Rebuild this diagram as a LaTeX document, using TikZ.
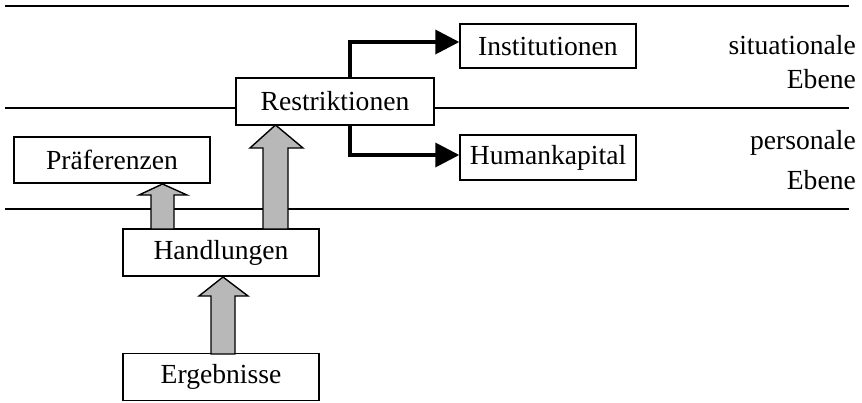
\documentclass[tikz,border=0pt]{standalone}
\usepackage{fontspec}
\setmainfont{Liberation Serif}
\usetikzlibrary{arrows.meta}
\begin{document}
\begin{tikzpicture}[x=1pt,y=-1pt,
  box/.style={draw=black,line width=1.4pt,fill=white,font=\fontsize{27.6}{30}\selectfont,inner sep=0pt},
  lvl/.style={line width=1.4pt},
  blockarrow/.style={draw=black,line width=1.4pt,fill=black!28,line join=miter},
  conn/.style={line width=3.6pt,-{Triangle[length=24pt,width=24pt]}},
  side/.style={font=\fontsize{27.6}{30}\selectfont,anchor=east,inner sep=0pt}]
\fill[white] (0,0) rectangle (862,402);
\useasboundingbox (0,0) rectangle (862,402);
% level lines
\coordinate (l1a) at (5,6);   \coordinate (l1b) at (849,6);
\coordinate (l2a) at (5,108); \coordinate (l2b) at (849,108);
\coordinate (l3a) at (5,209); \coordinate (l3b) at (849,209);
\draw[lvl] (l1a) -- (l1b);
\draw[lvl] (l2a) -- (l2b);
\draw[lvl] (l3a) -- (l3b);
% boxes
\node[box,minimum width=176pt,minimum height=44pt] (inst) at (548,46) {Institutionen};
\node[box,minimum width=198pt,minimum height=47pt] (restr) at (335,101.5) {Restriktionen};
\node[box,minimum width=176pt,minimum height=45pt] (human) at (548,157.5) {Humankapital};
\node[box,minimum width=196pt,minimum height=46pt] (pref) at (112,160) {Präferenzen};
\node[box,minimum width=196pt,minimum height=47pt] (hand) at (221,252.5) {Handlungen};
\node[box,minimum width=196pt,minimum height=47pt] (erg) at (221,377) {Ergebnisse};
% side labels
\node[side] (sit) at (856,45) {situationale};
\node[side] (eb1) at (856,79) {Ebene};
\node[side] (pers) at (856,143) {personale};
\node[side] (eb2) at (856,180) {Ebene};
% black connectors
\coordinate (ctop) at (350,42);
\coordinate (cbot) at (350,155);
\draw[conn] (restr.north -| ctop) -- (ctop) -- (ctop -| inst.west);
\draw[conn] (restr.south -| cbot) -- (cbot) -- (cbot -| human.west);
% block arrows
\draw[blockarrow] (151,229) -- (151,195) -- (139,195) -- (162.5,184) -- (187,195) -- (174,195) -- (174,229) -- cycle;
\draw[blockarrow] (263,229) -- (263,148) -- (250,148) -- (275.5,125) -- (303,148) -- (288,148) -- (288,229) -- cycle;
\draw[blockarrow] (211,354) -- (211,296) -- (199,296) -- (223,277) -- (248,296) -- (235,296) -- (235,354) -- cycle;
\end{tikzpicture}
\end{document}
